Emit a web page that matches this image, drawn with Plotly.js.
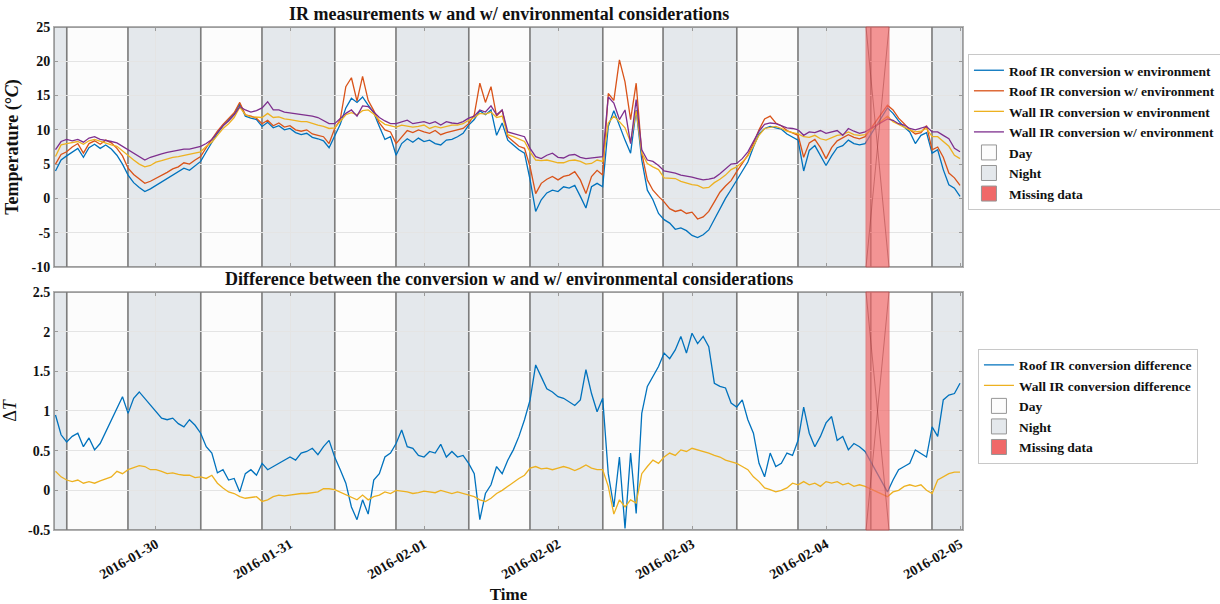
<!DOCTYPE html>
<html><head><meta charset="utf-8">
<script src="https://cdn.plot.ly/plotly-3.0.1.min.js"></script>
<style>html,body{margin:0;padding:0;background:#fff}#chart{width:1220px;height:604px}</style>
</head><body><div id="chart"></div>
<script>
// ---------- DATA (hourly samples starting 2016-01-29 06:00; null = missing) ----------
const firstSample = [2016, 0, 29, 6];
const roofW = [
 4.0,5.6,6.2,6.8,7.3,6.0,7.4,7.9,7.3,7.8,
 7.2,6.3,5.0,3.4,2.3,1.6,1.0,1.4,1.9,2.4,
 2.9,3.4,3.8,4.4,4.1,4.8,5.4,6.8,8.2,9.5,
 10.6,11.4,12.3,13.8,12.0,11.7,11.5,10.5,11.1,10.3,
 10.6,10.0,10.2,9.6,9.3,9.5,8.9,8.7,8.4,7.4,
 9.2,10.8,13.2,14.6,14.0,14.8,13.6,12.5,10.5,8.6,
 9.0,6.3,8.0,8.7,8.2,8.8,8.3,8.5,8.0,7.8,
 8.5,8.6,9.0,9.5,10.7,11.5,12.8,12.2,12.9,9.2,
 11.0,8.5,7.8,7.1,6.6,2.7,-1.9,-0.2,0.8,1.2,
 1.0,1.7,1.5,1.9,0.3,-1.4,1.7,2.2,1.7,10.5,
 12.8,10.5,8.5,6.6,12.9,5.6,1.2,-0.2,-2.2,-3.1,
 -3.6,-4.5,-4.3,-4.7,-5.4,-5.7,-5.3,-4.6,-3.0,-1.4,
 0.0,1.3,2.6,4.0,5.3,7.5,9.4,10.2,10.5,10.3,
 10.1,9.4,9.0,8.5,4.0,7.0,7.7,6.2,4.8,6.2,
 7.4,7.7,8.5,8.0,7.8,8.0,null,null,null,13.2,
 12.4,11.3,10.4,9.7,8.0,9.2,9.6,6.6,7.1,4.2,
 2.0,1.5,0.3];
const roofWo = [
 5.0,6.4,6.8,7.5,8.0,6.6,8.0,8.4,7.9,8.5,
 8.1,7.3,6.2,4.4,3.5,2.8,2.2,2.5,2.9,3.3,
 3.8,4.3,4.6,5.2,5.0,5.6,6.1,7.4,8.7,9.8,
 10.8,11.6,12.5,14.0,12.2,12.0,11.7,10.9,11.4,10.6,
 11.0,10.4,10.6,10.0,9.8,10.0,9.4,9.2,9.0,8.0,
 10.2,11.5,16.3,17.6,14.2,17.8,14.3,12.8,11.0,10.0,
 9.7,8.0,9.0,9.9,9.6,10.0,9.7,9.5,9.9,9.3,
 9.6,9.8,10.0,10.2,10.9,12.2,16.8,14.0,16.3,12.0,
 12.9,9.0,8.3,7.6,7.3,4.6,0.7,2.2,2.8,3.2,
 2.7,3.2,3.4,3.9,2.7,0.7,3.2,4.1,3.4,15.3,
 14.3,20.2,17.0,11.5,16.8,6.6,2.7,1.2,0.3,-0.5,
 -1.5,-1.9,-1.7,-2.2,-2.0,-3.0,-2.7,-1.9,-0.5,0.9,
 1.8,2.6,3.9,5.1,6.3,8.0,10.0,11.6,12.0,11.0,
 10.6,9.9,9.6,9.2,6.0,8.1,8.6,7.4,5.8,7.4,
 8.4,8.9,9.3,8.9,8.7,9.0,null,null,null,13.6,
 12.9,11.7,10.9,10.0,9.4,9.6,10.6,7.1,7.5,6.0,
 3.7,3.0,1.9];
const wallW = [
 6.1,7.8,8.0,8.1,8.3,7.9,8.4,8.6,8.3,8.1,
 7.8,7.6,6.9,6.3,5.6,5.0,4.6,4.8,5.3,5.5,
 5.8,6.0,6.1,6.3,6.5,6.6,6.8,7.6,8.2,9.2,
 10.2,10.9,11.8,13.3,12.2,11.9,11.9,11.8,12.4,11.8,
 11.9,11.6,11.5,11.3,11.2,11.2,10.9,10.7,10.5,10.2,
 10.3,11.2,12.2,12.5,12.2,12.8,12.9,12.3,11.4,10.8,
 10.6,10.4,10.7,10.5,10.4,10.5,10.7,10.2,10.5,10.3,
 10.5,10.7,10.7,10.9,11.4,11.8,12.4,12.3,12.6,11.8,
 12.0,9.3,9.0,8.6,8.3,6.8,5.6,5.5,5.6,5.4,
 5.2,5.2,5.5,5.6,5.4,5.0,5.1,5.6,5.4,11.0,
 12.0,11.2,10.3,8.2,12.8,6.6,5.1,4.6,4.2,3.0,
 3.0,2.9,2.5,2.2,2.0,1.9,1.5,1.6,2.3,2.8,
 3.4,4.2,4.6,5.3,6.2,7.6,9.2,10.2,10.4,10.5,
 10.2,9.8,9.6,9.4,9.0,8.9,9.2,8.7,8.5,8.9,
 9.2,9.3,9.7,9.3,9.2,9.3,null,null,null,12.0,
 11.2,10.8,10.3,10.0,9.7,9.8,10.2,9.0,9.0,8.3,
 7.6,6.3,5.8];
const wallWo = [
 7.1,8.3,8.6,8.4,8.6,8.2,8.8,9.0,8.6,8.5,
 8.3,8.1,7.6,7.2,6.7,6.1,5.6,6.0,6.3,6.5,
 6.7,6.9,7.0,7.2,7.2,7.4,7.6,8.0,8.6,9.6,
 10.6,11.3,12.2,13.4,12.9,12.6,12.8,13.2,14.1,12.9,
 12.9,12.6,12.5,12.4,12.3,12.2,12.0,11.8,11.4,10.9,
 10.9,11.6,12.4,12.9,12.0,13.5,13.4,12.6,11.8,11.3,
 10.9,10.9,11.2,11.4,10.9,11.1,11.2,10.9,11.2,10.7,
 11.2,11.0,10.9,11.2,11.7,12.0,12.9,12.6,13.5,12.2,
 12.9,9.7,9.5,9.2,9.0,7.3,6.1,5.8,6.3,6.6,
 6.0,5.9,6.3,6.4,6.0,5.8,5.9,6.1,6.1,14.8,
 13.9,11.5,12.9,8.0,14.4,7.1,5.6,5.4,4.8,4.0,
 3.9,3.7,3.4,3.3,3.1,2.9,2.7,2.8,3.0,3.6,
 4.3,5.0,5.1,5.8,6.8,8.4,9.8,10.8,11.0,10.9,
 10.6,10.3,10.2,10.0,9.2,9.7,9.6,9.9,9.5,9.7,
 9.9,9.2,10.2,9.8,9.5,9.7,null,null,null,11.6,
 11.4,10.9,10.7,10.2,10.0,10.2,10.5,9.7,9.7,9.2,
 8.7,7.3,6.8];
const diffRoof = [
 0.95,0.70,0.61,0.68,0.72,0.55,0.66,0.51,0.59,0.74,
 0.89,1.05,1.18,0.97,1.16,1.24,1.16,1.08,0.99,0.91,
 0.89,0.91,0.84,0.80,0.89,0.82,0.72,0.55,0.47,0.22,
 0.26,0.13,0.15,-0.02,0.21,0.26,0.19,0.34,0.26,0.30,
 0.34,0.38,0.42,0.38,0.47,0.49,0.53,0.45,0.55,0.63,
 0.42,0.26,0.09,-0.21,-0.37,-0.12,-0.30,0.13,0.21,0.42,
 0.47,0.59,0.76,0.55,0.53,0.44,0.42,0.49,0.47,0.58,
 0.42,0.49,0.42,0.44,0.34,0.21,-0.37,-0.04,0.07,0.30,
 0.21,0.38,0.51,0.68,0.89,1.14,1.58,1.43,1.28,1.24,
 1.18,1.16,1.12,1.07,1.14,1.52,1.22,0.99,1.16,0.21,
 -0.21,0.42,-0.48,0.47,-0.29,0.97,1.31,1.43,1.56,1.73,
 1.66,1.77,1.94,1.73,1.98,1.85,1.94,1.81,1.35,1.31,
 1.29,1.10,1.05,1.14,0.89,0.72,0.34,0.17,0.47,0.30,
 0.34,0.47,0.44,0.63,1.05,0.72,0.55,0.68,0.85,0.93,
 0.63,0.68,0.51,0.59,0.55,0.49,null,null,null,-0.02,
 0.13,0.26,0.30,0.34,0.51,0.47,0.42,0.80,0.68,1.14,
 1.20,1.22,1.35];
const diffWall = [
 0.24,0.17,0.13,0.11,0.13,0.09,0.11,0.09,0.12,0.15,
 0.17,0.24,0.21,0.26,0.29,0.31,0.30,0.26,0.26,0.24,
 0.21,0.22,0.20,0.19,0.19,0.16,0.17,0.15,0.19,0.09,
 0.03,-0.02,-0.04,-0.08,-0.10,-0.09,-0.08,-0.14,-0.12,-0.08,
 -0.06,-0.07,-0.06,-0.05,-0.04,-0.04,-0.03,-0.02,0.02,0.02,
 0.01,-0.02,-0.06,-0.08,-0.12,-0.06,-0.12,-0.08,-0.06,-0.02,
 -0.04,0.00,-0.01,-0.02,-0.04,-0.03,-0.01,-0.02,-0.03,0.00,
 -0.02,-0.04,-0.02,-0.04,-0.06,-0.08,-0.12,-0.14,-0.10,-0.04,
 0.00,0.05,0.11,0.15,0.19,0.28,0.30,0.27,0.28,0.26,
 0.28,0.30,0.28,0.25,0.28,0.32,0.28,0.26,0.26,0.05,
 -0.30,-0.12,-0.21,-0.12,-0.16,0.21,0.30,0.38,0.34,0.42,
 0.47,0.44,0.51,0.49,0.53,0.51,0.49,0.47,0.44,0.42,
 0.38,0.36,0.34,0.30,0.26,0.17,0.11,0.03,0.01,-0.02,
 0.00,0.03,0.09,0.07,0.11,0.07,0.09,0.05,0.11,0.09,
 0.11,0.07,0.09,0.05,0.07,0.05,null,null,null,-0.08,
 -0.02,0.00,0.05,0.07,0.05,0.07,0.00,-0.04,0.13,0.17,
 0.21,0.23,0.23];

const xRange = ['2016-01-29 05:44', '2016-02-05 00:32'];
const nightStart = ['2016-01-29 05:44','2016-01-29 19:00','2016-01-30 19:00','2016-01-31 19:00','2016-02-01 19:00','2016-02-02 18:50','2016-02-03 19:00','2016-02-04 19:00'];
const nightEnd   = ['2016-01-29 08:00','2016-01-30 08:00','2016-01-31 08:00','2016-02-01 08:00','2016-02-02 08:00','2016-02-03 08:00','2016-02-04 08:00','2016-02-05 00:32'];
const dayStart = ['2016-01-29 08:00','2016-01-30 08:00','2016-01-31 08:00','2016-02-01 08:00','2016-02-02 08:00','2016-02-03 08:00','2016-02-04 08:00'];
const dayEnd   = ['2016-01-29 19:00','2016-01-30 19:00','2016-01-31 19:00','2016-02-01 19:00','2016-02-02 18:50','2016-02-03 19:00','2016-02-04 19:00'];
const missStart = ['2016-02-04 07:10'];
const missEnd   = ['2016-02-04 11:17'];
const dateTicks = ['2016-01-30','2016-01-31','2016-02-01','2016-02-02','2016-02-03','2016-02-04','2016-02-05'];
const tempTicks = [-10,-5,0,5,10,15,20,25];
const tempTickText = ['-10','-5','0','5','10','15','20','25'];
const diffTicks = [-0.5,0,0.5,1,1.5,2,2.5];
const diffTickText = ['-0.5','0','0.5','1','1.5','2','2.5'];

// ---------- BUILD ----------
const times = roofW.map((_, i) => {
  const d = new Date(Date.UTC(firstSample[0], firstSample[1], firstSample[2], firstSample[3] + i));
  return d.toISOString().slice(0, 16).replace('T', ' ');
});

const FONT = 'Liberation Serif, Times New Roman, serif';
const C = {blue:'#0072BD', orange:'#D95319', yellow:'#EDB120', purple:'#7E2F8E'};
const NIGHT = 'rgb(228,232,236)', DAY = 'rgb(252,252,252)', EDGE = 'rgb(125,125,125)';
const MISS = 'rgb(240,105,105)';

function line(y, name, color, xa, ya, lg) {
  return {x: times, y: y, name: name, type: 'scatter', mode: 'lines', connectgaps: true,
          line: {color: color, width: 1.3}, xaxis: xa, yaxis: ya, legend: lg};
}
function box(name, fill, lg) {
  return {x: [null], y: [null], name: name, type: 'scatter', mode: 'markers', legend: lg,
          marker: {symbol: 'square', size: 15, color: fill, line: {color: 'rgb(150,150,150)', width: 1}},
          xaxis: lg === 'legend' ? 'x' : 'x2', yaxis: lg === 'legend' ? 'y' : 'y2'};
}

const traces = [
  line(roofW,  'Roof IR conversion w environment',  C.blue,   'x', 'y', 'legend'),
  line(roofWo, 'Roof IR conversion w/ environment', C.orange, 'x', 'y', 'legend'),
  line(wallW,  'Wall IR conversion w environment',  C.yellow, 'x', 'y', 'legend'),
  line(wallWo, 'Wall IR conversion w/ environment', C.purple, 'x', 'y', 'legend'),
  box('Day', DAY, 'legend'), box('Night', NIGHT, 'legend'), box('Missing data', MISS, 'legend'),
  line(diffRoof, 'Roof IR conversion difference', C.blue,   'x2', 'y2', 'legend2'),
  line(diffWall, 'Wall IR conversion difference', C.yellow, 'x2', 'y2', 'legend2'),
  box('Day', DAY, 'legend2'), box('Night', NIGHT, 'legend2'), box('Missing data', MISS, 'legend2')
];

const shapes = [];
[['x','y domain'], ['x2','y2 domain']].forEach(([xr, yr]) => {
  dayStart.forEach((s, i) => shapes.push({type:'rect', xref:xr, yref:yr, x0:s, x1:dayEnd[i], y0:0, y1:1,
    fillcolor: DAY, line:{color: EDGE, width: 1.4}, layer:'below'}));
  nightStart.forEach((s, i) => shapes.push({type:'rect', xref:xr, yref:yr, x0:s, x1:nightEnd[i], y0:0, y1:1,
    fillcolor: NIGHT, line:{color: EDGE, width: 1.4}, layer:'below'}));
  missStart.forEach((s, i) => {
    shapes.push({type:'rect', xref:xr, yref:yr, x0:s, x1:missEnd[i], y0:0, y1:1,
      fillcolor: MISS, opacity: 0.7, line:{color: 'rgb(220,90,90)', width: 1}, layer:'above'});
    shapes.push({type:'line', xref:xr, yref:yr, x0:s, x1:missEnd[i], y0:1, y1:0,
      line:{color:'rgba(150,50,50,0.45)', width:1}, layer:'above'});
    shapes.push({type:'line', xref:xr, yref:yr, x0:missEnd[i], x1:s, y0:1, y1:0,
      line:{color:'rgba(150,50,50,0.45)', width:1}, layer:'above'});
  });
});

const axBase = {showline: true, linecolor: '#b0b0b0', linewidth: 1, mirror: 'ticks', ticks: 'inside',
  ticklen: 4, tickcolor: '#9a9a9a', showgrid: true, gridcolor: '#e4e4e4', gridwidth: 1, zeroline: false,
  tickfont: {family: FONT, size: 14, color: '#111', weight: 'bold'}};

const legBase = {xref: 'container', yref: 'container', xanchor: 'left', yanchor: 'middle',
  bgcolor: '#fff', bordercolor: '#c8c8c8', borderwidth: 1,
  font: {family: FONT, size: 13.5, color: '#111', weight: 'bold'}, itemwidth: 30, tracegroupgap: 0, traceorder: 'normal'};

const layout = {
  width: 1220, height: 604,
  margin: {l: 54, r: 257, t: 27, b: 74},
  paper_bgcolor: '#fff', plot_bgcolor: '#fff',
  showlegend: true,
  xaxis: Object.assign({}, axBase, {domain: [0, 1], anchor: 'y', type: 'date', range: xRange,
    tickvals: dateTicks, showticklabels: false}),
  yaxis: Object.assign({}, axBase, {domain: [0.5229, 1], anchor: 'x', range: [-10, 25],
    tickvals: tempTicks, ticktext: tempTickText,
    title: {text: 'Temperature (°<i>C</i>)', standoff: 8, font: {family: FONT, size: 18, color: '#111', weight: 'bold'}}}),
  xaxis2: Object.assign({}, axBase, {domain: [0, 1], anchor: 'y2', type: 'date', range: xRange,
    tickvals: dateTicks, tickformat: '%Y-%m-%d', tickangle: -30,
    title: {text: 'Time', standoff: 8, font: {family: FONT, size: 17, color: '#111', weight: 'bold'}}}),
  yaxis2: Object.assign({}, axBase, {domain: [0, 0.4732], anchor: 'x2', range: [-0.5, 2.5],
    tickvals: diffTicks, ticktext: diffTickText,
    title: {text: 'Δ<i>T</i>', standoff: 10, font: {family: FONT, size: 18, color: '#111'}}}),
  legend: Object.assign({}, legBase, {x: 0.7934, y: 0.7815}),
  legend2: Object.assign({}, legBase, {x: 0.8016, y: 0.3278}),
  shapes: shapes,
  annotations: [
    {text: 'IR measurements w and w/ environmental considerations', xref: 'paper', yref: 'paper',
     x: 0.5, y: 1.0258, xanchor: 'center', yanchor: 'middle', showarrow: false,
     font: {family: FONT, size: 18, color: '#111', weight: 'bold'}},
    {text: 'Difference between the conversion w and w/ environmental considerations', xref: 'paper', yref: 'paper',
     x: 0.5, y: 0.499, xanchor: 'center', yanchor: 'middle', showarrow: false,
     font: {family: FONT, size: 18, color: '#111', weight: 'bold'}}
  ]
};

Plotly.newPlot('chart', traces, layout, {displayModeBar: false, staticPlot: true});
</script></body></html>
